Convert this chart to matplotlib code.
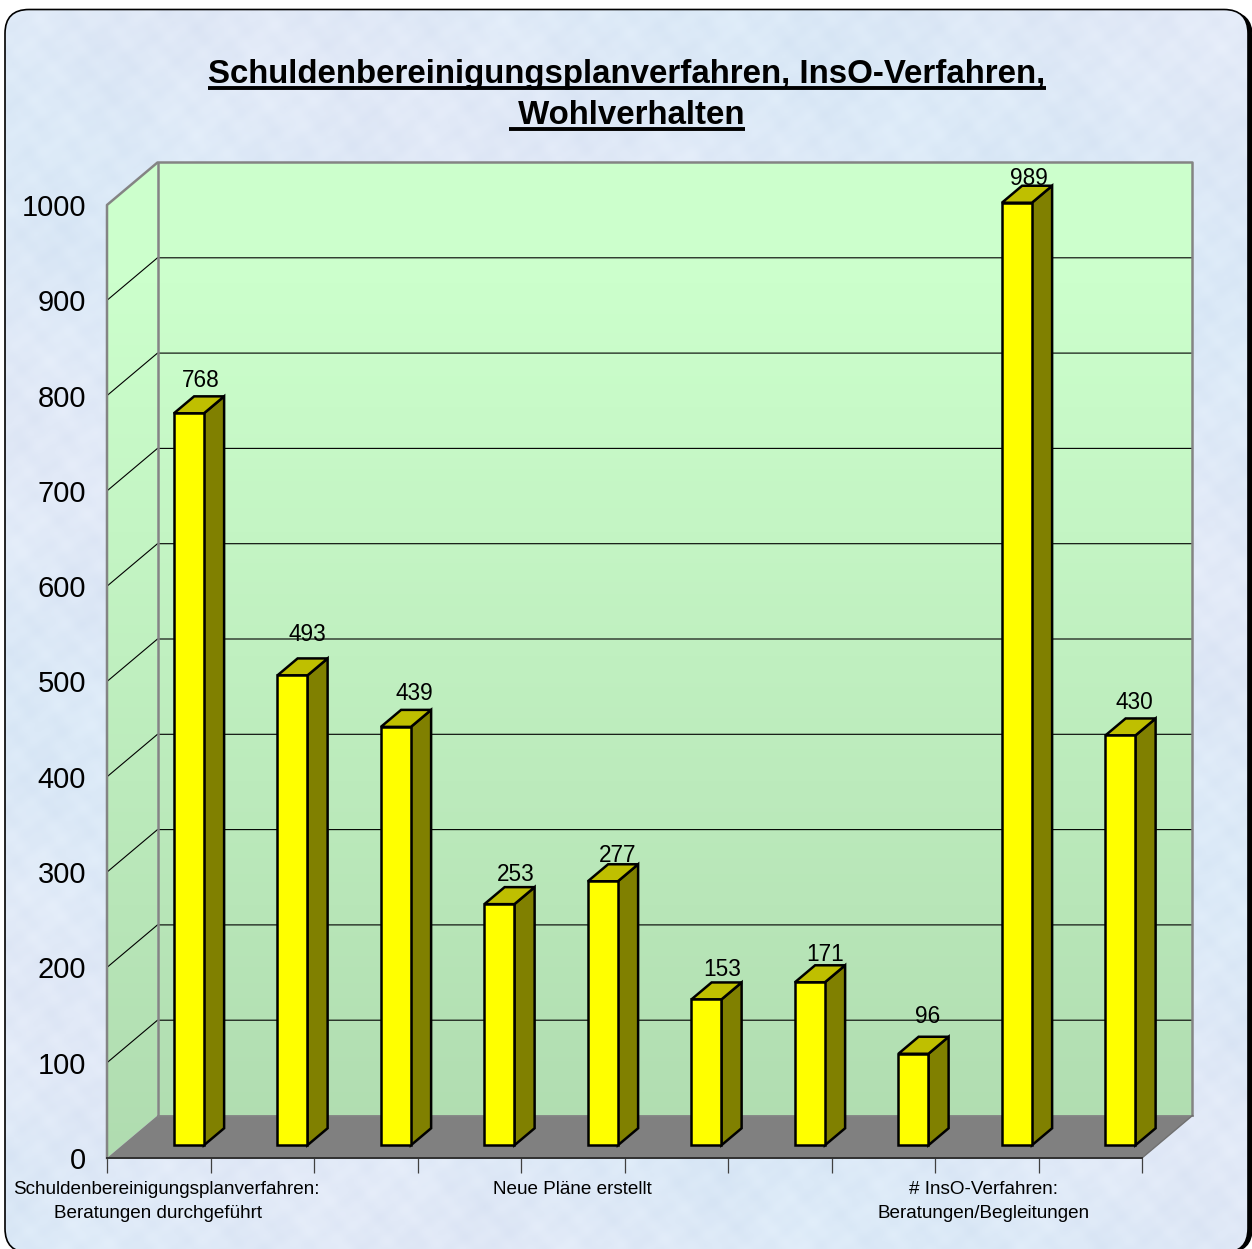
import numpy as np
import matplotlib
matplotlib.use('Agg')
from matplotlib import pyplot as plt
from matplotlib.patches import FancyBboxPatch, Polygon

plt.rcParams['font.family'] = ['Liberation Sans', 'DejaVu Sans']

values = [768, 493, 439, 253, 277, 153, 171, 96, 989, 430]
y_ticks = [0, 100, 200, 300, 400, 500, 600, 700, 800, 900, 1000]
title_lines = ['Schuldenbereinigungsplanverfahren, InsO-Verfahren,', ' Wohlverhalten']
# where each number sits relative to the top of its bar, in pixels
label_gap = [16, 24, 16, 13, 9, 13, 11, 20, 7, 16]
label_shift = [-8, -5, -2, -4, -5, -4, -5, -6, -8, -6]

W, H = 1252, 1249
fig = plt.figure(figsize=(W / 100, H / 100), dpi=100, facecolor='white')

# textured paper behind everything, axes in pixels
bg = fig.add_axes([0, 0, 1, 1])
bg.set_xlim(0, W)
bg.set_ylim(H, 0)
bg.axis('off')

def rounded(x, y, w, h, **kw):
    # plain polygon, curved paths get bent when they run over the canvas edge
    tmp = FancyBboxPatch((x, y), w, h, boxstyle='round,pad=0,rounding_size=24')
    return Polygon(tmp.get_path().to_polygons(closed_only=False)[0], closed=True, **kw)

bg.add_patch(rounded(8, 12, 1244, 1240, fc='black', ec='black', lw=1))
box = rounded(5, 9.5, 1243, 1243, fc='none', ec='black', lw=1.2, zorder=3)
bg.add_patch(box)
yy, xx = np.mgrid[0:H:2, 0:W:2]
tex = (0.5 * np.sin(xx / 37 + yy / 71) + 0.5 * np.sin(xx / 19 - yy / 43 + 1) + 0.5 * np.sin(xx / 113 + yy / 29 + 2)
       + 0.6 * np.sin(xx / 7.3 + yy / 11.1) + 0.6 * np.sin(xx / 9.1 - yy / 6.7)
       + 0.4 * np.sin(xx / 3.7 - yy / 5.3 + np.sin(yy / 23)) + 0.4 * np.sin(xx / 4.9 + yy / 3.1 + np.sin(xx / 31))) / 3
paper = np.dstack([222 + 6 * tex + 3 * np.sin(xx / 150 - yy / 90), 233 + 5 * tex, 247 + 3 * tex]) / 255
im = bg.imshow(np.clip(paper, 0, 1), extent=(0, W, H, 0), aspect='auto', zorder=1)
im.set_clip_path(box)

# chart axes = front plane of the 3d box
x0, x1, y_bot, y_top = 107, 1142, 1158, 205
depth_x, depth_y = 50.5, 42.5
ax = fig.add_axes([x0 / W, 1 - y_bot / H, (x1 - x0) / W, (y_bot - y_top) / H])
ax.patch.set_visible(False)
n = len(values)
ax.set_xlim(0, n)
ax.set_ylim(0, 1000)
for s in ax.spines.values():
    s.set_visible(False)

# depth of the box in data units
dx = depth_x * n / (x1 - x0)
dy = depth_y * 1000 / (y_bot - y_top)
def p(x, y, d):
    return (x + d * dx, y + d * dy)

# green gradient walls, on the pixel axes because an image gets cut at its own axes
grad = np.linspace(0, 1, 256).reshape(-1, 1)
grad = np.clip((grad - 0.12) / 0.88, 0, 1)
top_c = np.array([204, 255, 204]) / 255
bot_c = np.array([176, 220, 176]) / 255
wall_img = (top_c + (bot_c - top_c) * grad[:, :, None])
back_x, back_top, back_bot = x0 + depth_x, y_top - depth_y, y_bot - depth_y
back = Polygon([(back_x, back_bot), (x1 + depth_x, back_bot), (x1 + depth_x, back_top), (back_x, back_top)], fc='none', ec='none', transform=bg.transData)
left = Polygon([(x0, y_bot), (back_x, back_bot), (back_x, back_top), (x0, y_top)], fc='none', ec='none', transform=bg.transData)
bg.add_patch(back)
bg.add_patch(left)
for poly in [back, left]:
    g = bg.imshow(wall_img, extent=(x0, x1 + depth_x, y_bot, back_top), aspect='auto', zorder=2)
    g.set_clip_path(poly)
bg.set_xlim(0, W)
bg.set_ylim(H, 0)

# gridlines on the walls
for v in y_ticks[1:-1]:
    ax.plot(*zip(p(0, v, 0), p(0, v, 1), p(n, v, 1)), color='black', lw=0.8, zorder=2, clip_on=False)

# floor
ax.add_patch(Polygon([p(0, 0, 0), p(n, 0, 0), p(n, 0, 1), p(0, 0, 1)], fc='#808080', ec='none', zorder=3, clip_on=False))

# wall outline
gray = '#848484'
ax.plot(*zip(p(0, 0, 0), p(0, 1000, 0), p(0, 1000, 1), p(n, 1000, 1), p(n, 0, 1)), color=gray, lw=1.8, zorder=3, clip_on=False)
ax.plot(*zip(p(0, 0, 1), p(0, 1000, 1)), color=gray, lw=1.8, zorder=3, clip_on=False)
ax.plot(*zip(p(0, 0, 1), p(n, 0, 1)), color=gray, lw=1.2, zorder=3, clip_on=False)
ax.plot(*zip(p(n, 0, 0), p(n, 0, 1)), color='#707070', lw=1, zorder=3, clip_on=False)
ax.plot(*zip(p(0, 0, 0), p(n, 0, 0)), color='#303030', lw=1.4, zorder=4, clip_on=False)

# bars
bar_w = 0.29
d0, d1 = 0.3, 0.7
for i, v in enumerate(values):
    xl = i + 0.5
    xr = xl + bar_w
    ax.add_patch(Polygon([p(xr, 0, d0), p(xr, 0, d1), p(xr, v, d1), p(xr, v, d0)], fc='#808000', ec='black', lw=1.8, joinstyle='miter', zorder=5, clip_on=False))
    ax.add_patch(Polygon([p(xl, v, d0), p(xr, v, d0), p(xr, v, d1), p(xl, v, d1)], fc='#BFBF00', ec='black', lw=1.8, joinstyle='miter', zorder=5, clip_on=False))
    ax.add_patch(Polygon([p(xl, 0, d0), p(xr, 0, d0), p(xr, v, d0), p(xl, v, d0)], fc='#FFFF00', ec='black', lw=1.8, joinstyle='miter', zorder=6, clip_on=False))
    lx, ly = p(xl + bar_w / 2, v, d1)
    ax.annotate(str(v), (lx, ly), xytext=(label_shift[i] * 0.72, label_gap[i] * 0.72), textcoords='offset points', ha='center', va='center',
                fontsize=16.3, color='black', zorder=7, annotation_clip=False)

# ticks
ax.set_xticks(range(n + 1))
ax.set_xticklabels([])
ax.set_yticks(y_ticks)
ax.tick_params(axis='x', length=11, width=0.9, color='#404040')
ax.tick_params(axis='y', length=0, pad=15, labelsize=21)

# category labels, only some are shown
def cat_text(px, py, s):
    bg.text(px, py, s, ha='center', va='center', fontsize=13.6, color='black', zorder=4)
cat_text(166, 1190, 'Schuldenbereinigungsplanverfahren:')
cat_text(158.5, 1214, 'Beratungen durchgeführt')
cat_text(572.5, 1190, 'Neue Pläne erstellt')
cat_text(983.5, 1190, '# InsO-Verfahren:')
cat_text(984, 1214, 'Beratungen/Begleitungen')

# title with underline
fig.canvas.draw()
r = fig.canvas.get_renderer()
for line, base in zip(title_lines, [83, 124]):
    t = bg.text(627, base, line, ha='center', va='baseline', fontsize=23.8, fontweight='bold', color='black', zorder=4)
    ext = t.get_window_extent(r)
    bg.plot([ext.x0, ext.x1], [base + 5, base + 5], color='black', lw=2.8, solid_capstyle='butt', zorder=4)
bg.set_xlim(0, W)
bg.set_ylim(H, 0)

fig.savefig('out.png', dpi=100)
